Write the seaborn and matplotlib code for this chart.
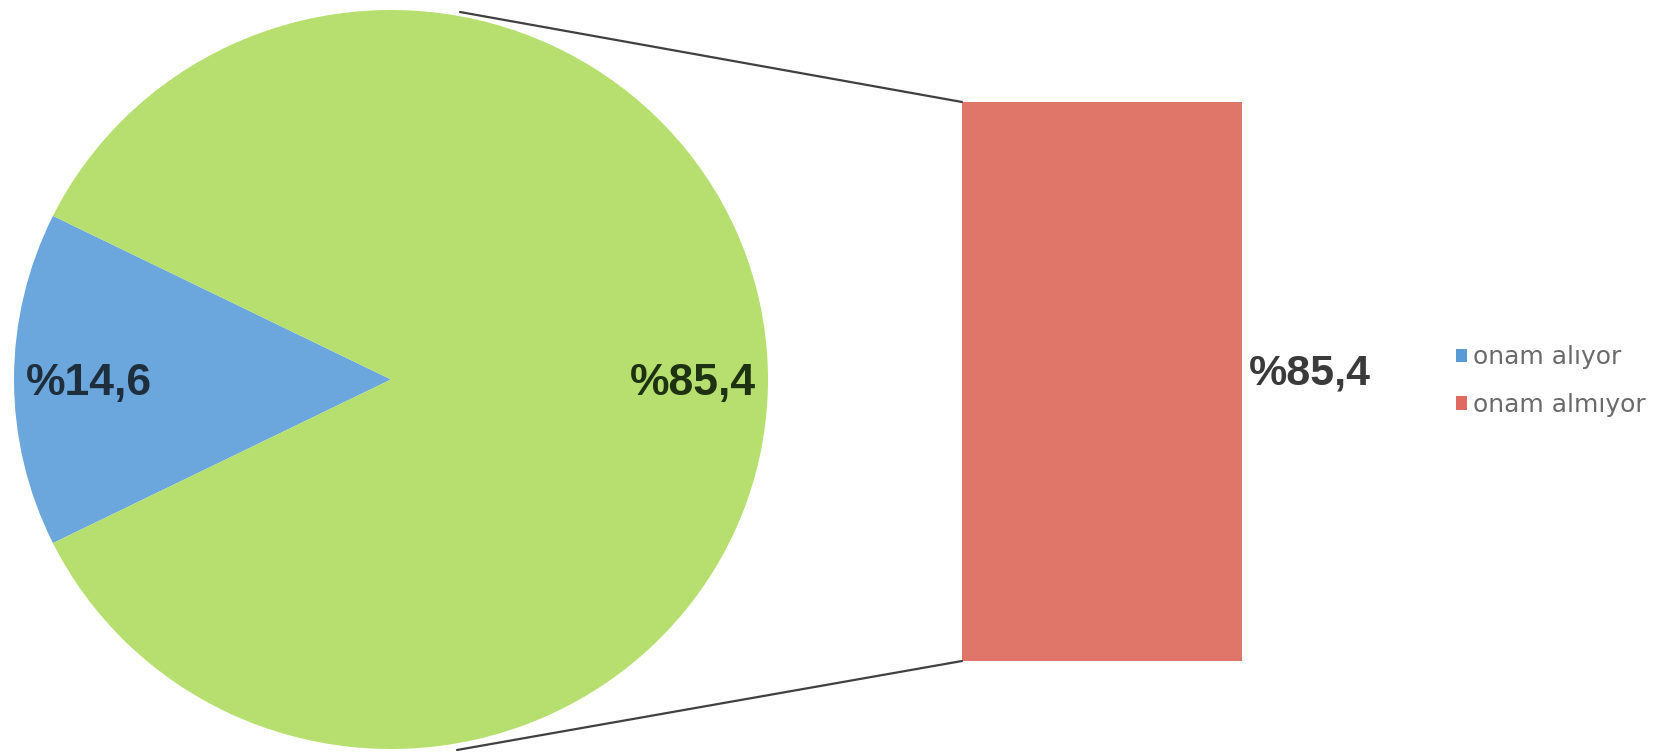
import matplotlib
matplotlib.use("Agg")
import matplotlib.pyplot as plt
import seaborn as sns
from matplotlib.lines import Line2D
from matplotlib.patches import Patch

# Onam (consent) data: share of each answer
labels = ["onam alıyor", "onam almıyor"]
pie_values = [14.6, 85.4]
bar_label = "onam almıyor"
bar_value = 85.4

pie_colors = ["#6BA6DD", "#B6DF70"]
bar_color = "#E0756A"
legend_colors = ["#5B9BD5", "#E06A62"]

sns.set_style("white")
plt.rcParams["font.family"] = ["Liberation Sans", "DejaVu Sans"]

W, H = 1669, 754
fig = plt.figure(figsize=(W / 100, H / 100), dpi=100)


def px_box(left, top, right, bottom):
    # pixel box -> figure fraction rect
    return [left / W, 1 - bottom / H, (right - left) / W, (bottom - top) / H]


# Pie: blue slice centred on the left side
ax_pie = fig.add_axes(px_box(14, 10, 768, 749))
blue_span = pie_values[0] / sum(pie_values) * 360
wedges, _, autotexts = ax_pie.pie(
    pie_values, colors=pie_colors, startangle=180 - blue_span / 2,
    autopct=lambda p: "%" + f"{p:.1f}".replace(".", ","), pctdistance=0.8,
    wedgeprops=dict(linewidth=0),
    textprops=dict(fontsize=32, fontweight="bold"))
autotexts[0].set_color("#1F2E3C")
autotexts[1].set_color("#1E3212")
for t in autotexts:
    x, y = t.get_position()
    t.set_position((x, y - 0.01))
ax_pie.set_aspect("auto")
ax_pie.set_xlim(-1, 1)
ax_pie.set_ylim(-1, 1)
ax_pie.axis("off")

# Bar: breakdown of the large slice
ax_bar = fig.add_axes(px_box(962, 102, 1242, 661))
sns.barplot(x=[bar_label], y=[bar_value], ax=ax_bar, color=bar_color,
            width=1, linewidth=0, saturation=1)
ax_bar.set_xlim(-0.5, 0.5)
ax_bar.set_ylim(0, bar_value)
ax_bar.axis("off")
ax_bar.annotate("%" + f"{bar_value:.1f}".replace(".", ","),
                xy=(0.5, bar_value / 2), xytext=(5, 6), textcoords="offset points",
                ha="left", va="center", fontsize=31, fontweight="bold",
                color="#3A3A3A", annotation_clip=False)

# Connector lines between pie and bar
for (x1, y1), (x2, y2) in [((460, 12), (962, 102)), ((457, 750), (962, 661))]:
    fig.add_artist(Line2D([x1 / W, x2 / W], [1 - y1 / H, 1 - y2 / H],
                          transform=fig.transFigure, color="#404040", lw=1.6))

# Legend
handles = [Patch(facecolor=c, edgecolor="none") for c in legend_colors]
fig.legend(handles, labels, loc="center left", bbox_to_anchor=(1433 / W, 1 - 381 / H),
           frameon=False, prop=dict(family="DejaVu Sans", size=18),
           handlelength=0.45, handleheight=0.45,
           handletextpad=0.25, labelspacing=0.95, labelcolor="#6A6A6A")

fig.savefig("out.png", dpi=100)
